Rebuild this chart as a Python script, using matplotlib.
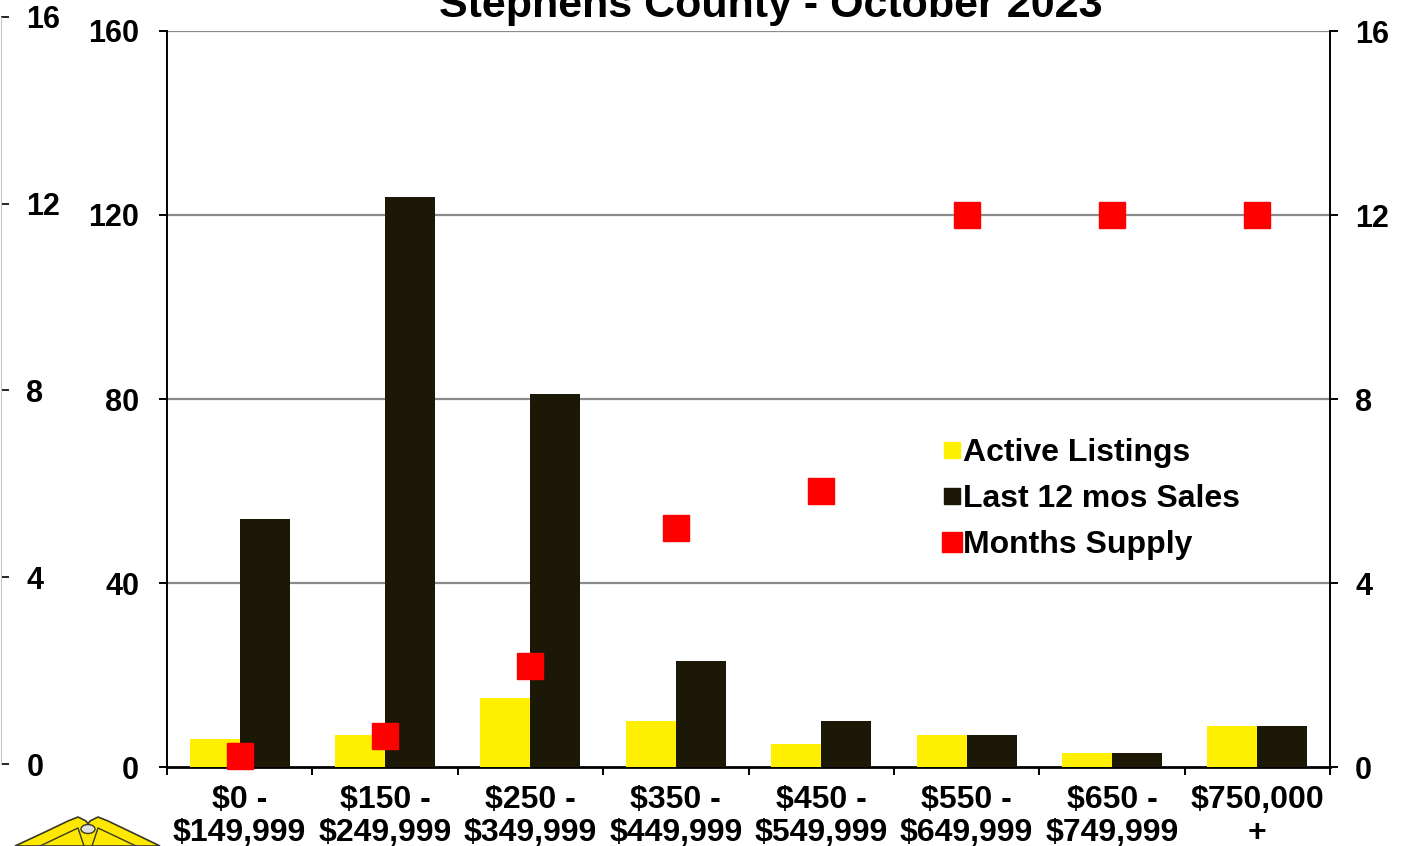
import matplotlib.pyplot as plt
import numpy as np
from matplotlib.lines import Line2D
from matplotlib.patches import Polygon, Ellipse

plt.rcParams['font.family'] = ['Liberation Sans', 'DejaVu Sans']
plt.rcParams['font.weight'] = 'bold'

title = "Stephens County - October 2023"
categories = ["$0 -\n$149,999", "$150 -\n$249,999", "$250 -\n$349,999", "$350 -\n$449,999",
              "$450 -\n$549,999", "$550 -\n$649,999", "$650 -\n$749,999", "$750,000\n+"]
active = [6, 7, 15, 10, 5, 7, 3, 9]
sales = [54, 124, 81, 23, 10, 7, 3, 9]
supply = [0.25, 0.68, 2.2, 5.2, 6, 12, 12, 12]
left_ticks = [0, 40, 80, 120, 160]
right_ticks = [0, 4, 8, 12, 16]

yellow = '#FFEF00'
dark = '#1C1808'
grid = '#8C8C8C'

W, H = 1405, 846
fig = plt.figure(figsize=(W / 100, H / 100), dpi=100)

def fx(px):
    return px / W

def fy(py):
    return 1 - py / H

ax = fig.add_axes([fx(167), fy(767), fx(1330 - 167), (767 - 31) / H])
x = np.arange(len(categories))
bw = 0.344
ax.bar(x - bw, active, bw, align='edge', color=yellow, zorder=3)
ax.bar(x, sales, bw, align='edge', color=dark, zorder=3)
ax.set_xlim(-0.5, len(categories) - 0.5)
ax.set_ylim(0, 160)
ax.set_yticks(left_ticks)
for v in left_ticks[1:]:
    ax.axhline(v, color=grid, lw=1.6, zorder=1)
ax.spines['top'].set_visible(False)
ax.spines['right'].set_visible(False)
ax.spines['left'].set_linewidth(1.4)
ax.spines['bottom'].set_linewidth(2.0)
ax.set_xticks(x)
ax.set_xticklabels(categories, fontsize=23, linespacing=1.12)
ax.set_xticks(np.arange(-0.5, len(categories)), minor=True)
ax.tick_params(axis='x', which='major', length=0, pad=13)
ax.tick_params(axis='x', which='minor', length=6, width=1.4, direction='out')
ax.tick_params(axis='y', length=6, width=1.4, labelsize=22, pad=14)

ax2 = ax.twinx()
ax2.set_ylim(0, 16)
ax2.set_yticks(right_ticks)
ax2.plot(x, supply, 's', color='#FF0000', markersize=19, zorder=5, clip_on=False)
for s in ['top', 'left', 'bottom']:
    ax2.spines[s].set_visible(False)
ax2.spines['right'].set_linewidth(1.4)
ax2.tick_params(axis='y', length=6, width=1.4, labelsize=22, pad=12)

# partial axis at the far left edge
ax3 = fig.add_axes([0.0004, fy(764), 0.0006, (764 - 17) / H])
ax3.set_ylim(0, 16)
ax3.set_yticks(right_ticks)
ax3.set_xticks([])
for s in ['top', 'right', 'bottom']:
    ax3.spines[s].set_visible(False)
ax3.spines['left'].set_color('#C8C8C8')
ax3.yaxis.set_ticks_position('right')
ax3.tick_params(axis='y', length=6, width=1.2, labelsize=22, pad=12)
ax3.patch.set_visible(False)

fig.text(fx(771), fy(17), title, ha='center', va='baseline', fontsize=31, fontweight='bold')

handles = [
    Line2D([], [], marker='s', ls='none', color=yellow, markersize=11),
    Line2D([], [], marker='s', ls='none', color=dark, markersize=11),
    Line2D([], [], marker='s', ls='none', color='#FF0000', markersize=14),
]
fig.legend(handles, ["Active Listings", "Last 12 mos Sales", "Months Supply"],
           loc='upper left', bbox_to_anchor=(fx(926), fy(422)), frameon=False,
           fontsize=23, handlelength=0.6, handletextpad=0.05, labelspacing=0.5,
           borderpad=0)

# logo fragment at the bottom left
wing = [(15, 846), (45, 832), (68, 821), (78, 817), (86, 821), (88, 824), (90, 821),
        (98, 817), (108, 821), (131, 832), (160, 846)]
fig.patches.append(Polygon([(fx(a), fy(b)) for a, b in wing], closed=True,
                           transform=fig.transFigure, facecolor='#FFE800',
                           edgecolor='#3A3A20', lw=1.2))
fig.patches.append(Ellipse((fx(88), fy(829)), fx(14), 9 / H, transform=fig.transFigure,
                           facecolor='#E0E0E0', edgecolor='#3A3A20', lw=1.0))
fig.lines.append(Line2D([fx(40), fx(78), fx(84)], [fy(846), fy(828), fy(846)],
                        transform=fig.transFigure, color='#3A3A20', lw=1.0))
fig.lines.append(Line2D([fx(136), fx(98), fx(92)], [fy(846), fy(828), fy(846)],
                        transform=fig.transFigure, color='#3A3A20', lw=1.0))

fig.savefig('out.png', dpi=100)
